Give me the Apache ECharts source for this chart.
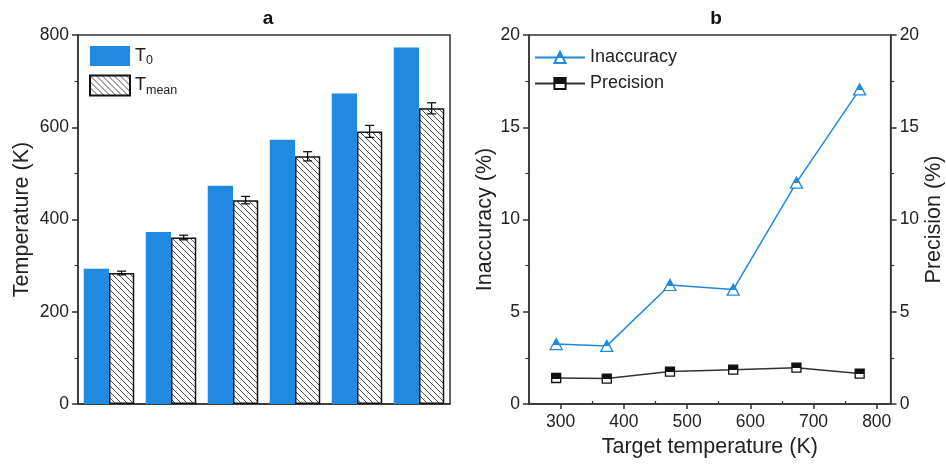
<!DOCTYPE html>
<html>
<head>
<meta charset="utf-8">
<script src="https://cdn.jsdelivr.net/npm/echarts@6/dist/echarts.min.js"></script>
<style>
  html, body { margin: 0; padding: 0; background: #fff; }
  #chart { width: 946px; height: 464px; }
</style>
</head>
<body>
<div id="chart"></div>
<script>
// panel a: target vs measured temperature
const targets = ['293', '373', '473', '573', '673', '773'];
const t0 = [293, 373, 473, 573, 673, 773];
const tMean = [284, 361, 442, 537, 591, 641];
const tMeanErr = [4, 5, 8, 10, 13, 12];
const yTicksA = [0, 200, 400, 600, 800];

// panel b: inaccuracy & precision
const targetT = [293, 373, 473, 573, 673, 773];
const inaccuracy = [3.25, 3.15, 6.45, 6.2, 12.0, 17.05];
const precision = [1.41, 1.38, 1.76, 1.86, 1.97, 1.65];
const xTicksB = [300, 400, 500, 600, 700, 800];
const xMinorB = [250, 350, 450, 550, 650, 750];

const FONT = '"Liberation Sans", Arial, sans-serif';
const AXIS = '#333';
const BLUE = '#1f8ae0';
const CAT_GAP = 0.185;

function hatchPattern() {
    const c = document.createElement('canvas');
    c.width = 6;
    c.height = 6;
    const ctx = c.getContext('2d');
    ctx.fillStyle = '#fff';
    ctx.fillRect(0, 0, 6, 6);
    ctx.strokeStyle = '#3a3a3a';
    ctx.lineWidth = 0.9;
    ctx.beginPath();
    ctx.moveTo(-1, -1); ctx.lineTo(7, 7);
    ctx.moveTo(-1, 5); ctx.lineTo(1, 7);
    ctx.moveTo(5, -1); ctx.lineTo(7, 1);
    ctx.stroke();
    return { image: c, repeat: 'repeat' };
}

function halfFill(top) {
    return {
        type: 'linear', x: 0, y: 0, x2: 0, y2: 1,
        colorStops: [
            { offset: 0, color: top },
            { offset: 0.55, color: top },
            { offset: 0.55, color: '#fff' },
            { offset: 1, color: '#fff' },
        ],
    };
}

const tickLabel = { color: '#222', fontSize: 17.5, fontFamily: FONT };
const axisName = { color: '#222', fontSize: 21.5, fontFamily: FONT };
const axisLine = { show: true, lineStyle: { color: AXIS, width: 1.5 } };
const majorTick = { show: true, length: 6, lineStyle: { color: AXIS, width: 1.5 } };
const minorTick = { show: true, splitNumber: 2, length: 3.5, lineStyle: { color: AXIS, width: 1.2 } };

const chart = echarts.init(document.getElementById('chart'));

const option = {
    animation: false,
    title: [
        { text: 'a', left: 263, top: 4, textAlign: 'center', textStyle: { fontSize: 19, fontWeight: 'bold', fontFamily: FONT, color: '#111' } },
        { text: 'b', left: 711, top: 4, textAlign: 'center', textStyle: { fontSize: 19, fontWeight: 'bold', fontFamily: FONT, color: '#111' } },
    ],
    legend: [
        {
            data: [{ name: 'T0', icon: 'rect' }, { name: 'Tmean', icon: 'rect' }],
            orient: 'vertical',
            left: 84,
            top: 41,
            itemWidth: 40,
            itemHeight: 20,
            itemGap: 7,
            formatter: (name) => (name === 'T0' ? '{m|T}{s|0}' : '{m|T}{s|mean}'),
            textStyle: {
                fontFamily: FONT,
                color: '#222',
                rich: {
                    m: { fontSize: 18, fontFamily: FONT, color: '#222' },
                    s: { fontSize: 12.5, fontFamily: FONT, color: '#222', padding: [10, 0, 0, 0] },
                },
            },
        },
        {
            data: ['Inaccuracy', 'Precision'],
            orient: 'vertical',
            left: 529,
            top: 43.5,
            itemWidth: 50,
            itemHeight: 14,
            itemGap: 8,
            textStyle: { fontSize: 18, fontFamily: FONT, color: '#222' },
        },
    ],
    grid: [
        { left: 78, right: 496, top: 35, bottom: 60, show: true, borderColor: AXIS, borderWidth: 1.5 },
        { left: 529, right: 53, top: 35, bottom: 60, show: true, borderColor: AXIS, borderWidth: 1.5 },
    ],
    xAxis: [
        {
            type: 'category',
            gridIndex: 0,
            data: targets,
            axisLine: axisLine,
            axisTick: { show: false },
            axisLabel: { show: false },
        },
        {
            type: 'value',
            gridIndex: 1,
            min: 250,
            max: 822,
            name: 'Target temperature (K)',
            nameLocation: 'middle',
            nameGap: 32.5,
            nameTextStyle: axisName,
            axisLine: axisLine,
            axisTick: { ...majorTick, length: 5, customValues: xTicksB },
            axisLabel: { ...tickLabel, customValues: xTicksB, margin: 9 },
            splitLine: { show: false },
        },
        {
            type: 'value',
            gridIndex: 1,
            min: 250,
            max: 822,
            axisLine: { show: false },
            axisTick: { show: true, length: 3, customValues: xMinorB, lineStyle: { color: AXIS, width: 1.2 } },
            axisLabel: { show: false },
            splitLine: { show: false },
        },
    ],
    yAxis: [
        {
            type: 'value',
            gridIndex: 0,
            min: yTicksA[0],
            max: yTicksA[yTicksA.length - 1],
            interval: 200,
            name: 'Temperature (K)',
            nameLocation: 'middle',
            nameGap: 45,
            nameRotate: 90,
            nameTextStyle: axisName,
            axisLine: axisLine,
            axisTick: majorTick,
            minorTick: minorTick,
            axisLabel: { ...tickLabel, margin: 9 },
            splitLine: { show: false },
        },
        {
            type: 'value',
            gridIndex: 1,
            min: 0,
            max: 20,
            interval: 5,
            name: 'Inaccuracy (%)',
            nameLocation: 'middle',
            nameGap: 33,
            nameRotate: 90,
            nameTextStyle: axisName,
            axisLine: axisLine,
            axisTick: majorTick,
            minorTick: minorTick,
            axisLabel: { ...tickLabel, margin: 9 },
            splitLine: { show: false },
        },
        {
            type: 'value',
            gridIndex: 1,
            position: 'right',
            min: 0,
            max: 20,
            interval: 5,
            name: 'Precision (%)',
            nameLocation: 'middle',
            nameGap: 28.5,
            nameRotate: 90,
            nameTextStyle: axisName,
            axisLine: axisLine,
            axisTick: majorTick,
            minorTick: minorTick,
            axisLabel: { ...tickLabel, margin: 9 },
            splitLine: { show: false },
        },
    ],
    series: [
        {
            name: 'T0',
            type: 'bar',
            xAxisIndex: 0,
            yAxisIndex: 0,
            data: t0,
            barGap: '0%',
            barCategoryGap: CAT_GAP * 100 + '%',
            itemStyle: { color: BLUE },
        },
        {
            name: 'Tmean',
            type: 'bar',
            xAxisIndex: 0,
            yAxisIndex: 0,
            data: tMean,
            itemStyle: { color: hatchPattern(), borderColor: '#111', borderWidth: 1.5 },
        },
        {
            type: 'custom',
            xAxisIndex: 0,
            yAxisIndex: 0,
            z: 5,
            data: tMean.map((v, i) => [i, v, tMeanErr[i]]),
            renderItem: (params, api) => {
                const i = api.value(0);
                const v = api.value(1);
                const e = api.value(2);
                const catW = api.size([1, 0])[0];
                const barW = (catW * (1 - CAT_GAP)) / 2;
                const cx = api.coord([i, v])[0] + barW / 2;
                const yTop = api.coord([i, v + e])[1];
                const yBot = api.coord([i, v - e])[1];
                const style = { stroke: '#111', lineWidth: 1.3 };
                return {
                    type: 'group',
                    children: [
                        { type: 'line', shape: { x1: cx, y1: yTop, x2: cx, y2: yBot }, style },
                        { type: 'line', shape: { x1: cx - 4.5, y1: yTop, x2: cx + 4.5, y2: yTop }, style },
                        { type: 'line', shape: { x1: cx - 4.5, y1: yBot, x2: cx + 4.5, y2: yBot }, style },
                    ],
                };
            },
        },
        {
            name: 'Inaccuracy',
            type: 'line',
            xAxisIndex: 1,
            yAxisIndex: 1,
            data: targetT.map((t, i) => [t, inaccuracy[i]]),
            symbol: 'triangle',
            symbolSize: [12, 11],
            lineStyle: { color: BLUE, width: 1.5 },
            itemStyle: { color: halfFill(BLUE), borderColor: BLUE, borderWidth: 1.3 },
        },
        {
            name: 'Precision',
            type: 'line',
            xAxisIndex: 1,
            yAxisIndex: 2,
            data: targetT.map((t, i) => [t, precision[i]]),
            symbol: 'rect',
            symbolSize: 9,
            lineStyle: { color: '#333', width: 1.5 },
            itemStyle: { color: halfFill('#111'), borderColor: '#111', borderWidth: 1.3 },
        },
    ],
};

chart.setOption(option);
</script>
</body>
</html>
